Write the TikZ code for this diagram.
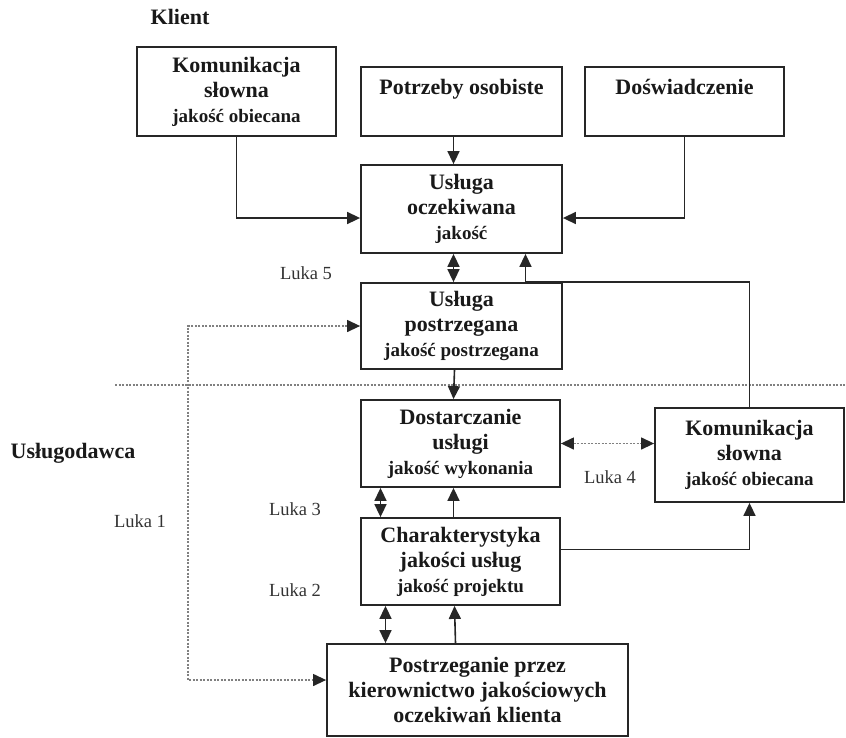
\documentclass[tikz,border=0pt]{standalone}
\usepackage{fontspec}
\setmainfont{Liberation Serif}
\usetikzlibrary{arrows.meta}
\newcommand{\bigline}{\fontsize{22}{25}\selectfont\bfseries}
\newcommand{\smallline}{\fontsize{19}{22}\selectfont\bfseries}
\begin{document}
\begin{tikzpicture}[x=1pt, y=-1pt, >={Triangle[length=13pt,width=12pt]},
  box/.style={draw=black!85, line width=1.8pt, align=center, inner sep=0pt, text=black!90, font=\bigline},
  topbox/.style={box, text height=27pt, text depth=42pt},
  luka/.style={font=\fontsize{18.5}{20}\selectfont, text=black!80},
  side/.style={font=\fontsize{22}{24}\selectfont\bfseries, text=black!90},
  link/.style={line width=1.6pt, draw=black!85},
  gapline/.style={draw=gray, dash pattern=on 2pt off 1.5pt, line width=1.3pt,
    >={Triangle[length=13pt,width=12pt,color=black!85]}}]

\useasboundingbox (0,0) rectangle (846,737);

 % strona klienta
\node[side] (klient) at (180,17) {Klient};
\node[box, minimum width=199pt, minimum height=89pt] (kom) at (236.5,91.5) {Komunikacja\\ słowna\\ \smallline jakość obiecana};
\node[topbox, minimum width=201pt] (potrz) at (461.5,101.5) {Potrzeby osobiste};
\node[topbox, minimum width=199pt] (dosw) at (684.5,101.5) {Doświadczenie};
\node[box, minimum width=201pt, minimum height=88pt] (ocz) at (461.5,209) {Usługa\\ oczekiwana\\ \smallline jakość};
\node[box, minimum width=201pt, minimum height=86pt] (postrz) at (461.5,326) {Usługa\\ postrzegana\\ \smallline jakość postrzegana};

 % granica
\draw[gapline] (115,385) -- (846,385);

 % strona uslugodawcy
\node[side] (uslugodawca) at (73,453) {Usługodawca};
\node[box, minimum width=199pt, minimum height=87pt] (dostar) at (460.5,443.5) {Dostarczanie\\ usługi\\ \smallline jakość wykonania};
\node[box, minimum width=189pt, minimum height=94pt] (kom2) at (749.5,455) {Komunikacja\\ słowna\\ \smallline jakość obiecana};
\node[box, minimum width=199pt, minimum height=87pt] (charakt) at (460.5,561.5) {Charakterystyka\\ jakości usług\\ \smallline jakość projektu};
\node[box, minimum width=301pt, minimum height=92pt] (kierown) at (477.5,690) {Postrzeganie przez\\ kierownictwo jakościowych\\ oczekiwań klienta};

 % luki
\node[luka] (luka5) at (306,273) {Luka 5};
\node[luka] (luka1) at (140,521) {Luka 1};
\node[luka] (luka3) at (295,509) {Luka 3};
\node[luka] (luka2) at (295,590) {Luka 2};
\node[luka] (luka4) at (610,477) {Luka 4};

 % polaczenia
\draw[link, ->] (kom.south) |- ([yshift=-9pt]ocz.west);
\draw[link, ->] (dosw.south) |- ([yshift=-9pt]ocz.east);
\draw[link, ->] ([xshift=-8pt]potrz.south) -- ([xshift=-8pt]ocz.north);
\draw[link, <->] ([xshift=-8pt]ocz.south) -- ([xshift=-8pt]postrz.north);
\draw[link, ->] (kom2.north) |- ([xshift=64pt]postrz.north) -- ([xshift=64pt]ocz.south);
\draw[link, ->] ([xshift=-7pt]postrz.south) -- ([xshift=-7pt]dostar.north);
\draw[gapline, <->] (dostar.east) -- (dostar.east -| kom2.west);
\draw[link, <->] ([xshift=-80pt]dostar.south) -- ([xshift=-80pt]charakt.north);
\draw[link, ->] ([xshift=-7pt]charakt.north) -- ([xshift=-7pt]dostar.south);
\draw[link, ->] ([yshift=12pt]charakt.east) -| (kom2.south);
\draw[link, <->] ([xshift=-75pt]charakt.south) -- ([xshift=-75pt]charakt.south |- kierown.north);
\draw[link, ->] ([xshift=-22pt]kierown.north) -- ([xshift=-6pt]charakt.south);
\draw[gapline, <->] (postrz.west) -| (188,680) -- (kierown.west |- 0,680);

\end{tikzpicture}
\end{document}
